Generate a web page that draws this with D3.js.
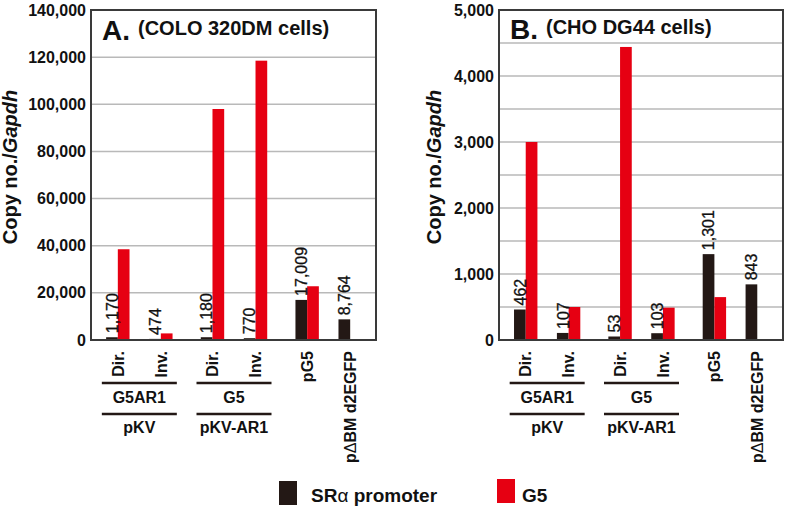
<!DOCTYPE html>
<html>
<head>
<meta charset="utf-8">
<script src="https://cdn.jsdelivr.net/npm/d3@7"></script>
<style>
  html, body { margin: 0; padding: 0; background: #fff; }
  svg { display: block; font-family: "Liberation Sans", Arial, Helvetica, sans-serif; }
</style>
</head>
<body>
<svg id="chart" width="787" height="508"></svg>
<script>
// ---------------- data ----------------
const itemLabels = ["Dir.", "Inv.", "Dir.", "Inv.", "pG5", "p\u0394BM d2EGFP"];
const itemPair   = ["pKV", "pKV", "pKV-AR1", "pKV-AR1", "ctrl", "ctrl"];
const pairs      = ["pKV", "pKV-AR1", "ctrl"];
const bracketInner = ["G5AR1", "G5"];      // first bracket row (under Dir./Inv.)
const bracketOuter = ["pKV", "pKV-AR1"];   // second bracket row
const seriesNames  = ["SR\u03b1 promoter", "G5"];

// Panel A: COLO 320DM cells
const srA  = [1170, 474, 1180, 770, 17009, 8764];
const g5A  = [38500, 2800, 98000, 118500, 22800, 0];
const ticksA = [0, 20000, 40000, 60000, 80000, 100000, 120000, 140000];
const gridA  = [20000, 40000, 60000, 80000, 100000, 120000];

// Panel B: CHO DG44 cells
const srB  = [462, 107, 53, 103, 1301, 843];
const g5B  = [3000, 500, 4440, 490, 650, 0];
const ticksB = [0, 1000, 2000, 3000, 4000, 5000];
const gridB  = [500, 1000, 1500, 2000, 2500, 3000, 3500, 4000, 4500];

// ---------------- style ----------------
const BLACK = "#231815", RED = "#e60012", GRID = "#b9b9b9", FRAME = "#3a3a3a";
const fmt = d3.format(",");
const svg = d3.select("#chart");

const panels = [
  { letter: "A.", sub: "(COLO 320DM cells)", sr: srA, g5: g5A, ticks: ticksA, grid: gridA,
    left: 91, right: 376, top: 10, bottom: 340, titleX: 17, letterBase: 40, subBase: 35 },
  { letter: "B.", sub: "(CHO DG44 cells)", sr: srB, g5: g5B, ticks: ticksB, grid: gridB,
    left: 499, right: 783, top: 10, bottom: 340, titleX: 441, letterBase: 39, subBase: 34 }
];

panels.forEach(p => {
  const g = svg.append("g");
  const y = d3.scaleLinear().domain([0, d3.max(p.ticks)]).range([p.bottom, p.top]);
  const xPair = d3.scaleBand().domain(pairs).range([p.left + 1, p.right]).padding(0);
  const xItem = d3.scaleBand().domain([0, 1]).range([0, xPair.bandwidth()])
                  .paddingInner(0).paddingOuter(0.1);
  const barW = 11.7;
  const cx = i => xPair(itemPair[i]) + xItem(i % 2) + xItem.bandwidth() / 2;
  const xs = d3.scaleBand().domain(seriesNames).range([-barW, barW]);

  // grid lines
  g.append("g").selectAll("line").data(p.grid).join("line")
    .attr("x1", p.left).attr("x2", p.right)
    .attr("y1", d => y(d)).attr("y2", d => y(d))
    .attr("stroke", GRID).attr("stroke-width", 1.5);

  // y axis
  const ax = g.append("g").attr("transform", `translate(${p.left - 5},0)`)
    .call(d3.axisLeft(y).tickValues(p.ticks).tickFormat(fmt).tickSize(0).tickPadding(0));
  ax.select(".domain").remove();
  ax.selectAll("text").attr("font-size", 16).attr("font-weight", "bold")
    .attr("fill", "#111").attr("font-family", "Liberation Sans, Arial, sans-serif");

  // bars
  const idx = d3.range(itemLabels.length);
  g.append("g").selectAll("rect.sr").data(idx).join("rect")
    .attr("x", i => cx(i) + xs(seriesNames[0])).attr("width", xs.bandwidth())
    .attr("y", i => y(p.sr[i])).attr("height", i => y(0) - y(p.sr[i]))
    .attr("fill", BLACK);
  g.append("g").selectAll("rect.g5").data(idx.filter(i => p.g5[i] > 0)).join("rect")
    .attr("x", i => cx(i) + xs(seriesNames[1])).attr("width", xs.bandwidth())
    .attr("y", i => y(p.g5[i])).attr("height", i => y(0) - y(p.g5[i]))
    .attr("fill", RED);

  // value labels on black bars
  g.append("g").selectAll("text").data(idx).join("text")
    .attr("transform", i => `translate(${cx(i) - barW / 2},${y(p.sr[i]) - 4}) rotate(-90)`)
    .attr("dy", "0.36em").attr("text-anchor", "start")
    .attr("font-size", 16).attr("fill", "#111")
    .attr("stroke", "#111").attr("stroke-width", 0.3)
    .text(i => fmt(p.sr[i]));

  // frame
  g.append("rect").attr("x", p.left).attr("y", p.top)
    .attr("width", p.right - p.left).attr("height", p.bottom - p.top)
    .attr("fill", "none").attr("stroke", FRAME).attr("stroke-width", 2);

  // panel title
  g.append("text").attr("x", p.left + 11).attr("y", p.letterBase)
    .attr("font-size", 28).attr("font-weight", "bold").attr("fill", "#111").text(p.letter);
  g.append("text").attr("x", p.left + 47).attr("y", p.subBase)
    .attr("font-size", 20).attr("font-weight", "bold").attr("fill", "#111").text(p.sub);

  // y title
  const yt = g.append("text")
    .attr("transform", `translate(${p.titleX},${(p.top + p.bottom) / 2 - 8}) rotate(-90)`)
    .attr("text-anchor", "middle").attr("font-size", 20).attr("font-weight", "bold").attr("fill", "#111");
  yt.append("tspan").text("Copy no./");
  yt.append("tspan").attr("font-style", "italic").text("Gapdh");

  // x labels
  const xl = g.append("g").selectAll("text").data(idx).join("text")
    .attr("transform", i => `translate(${cx(i)},${p.bottom + 11}) rotate(-90)`)
    .attr("dy", "0.36em").attr("text-anchor", "end")
    .attr("font-size", 16).attr("font-weight", "bold").attr("fill", "#111");
  xl.each(function (i) {
    const t = d3.select(this);
    const parts = itemLabels[i].split("\u0394");
    if (parts.length === 1) { t.text(itemLabels[i]); return; }
    t.append("tspan").text(parts[0]);
    t.append("tspan").attr("font-weight", "normal").text("\u0394");
    t.append("tspan").text(parts[1]);
  });

  // brackets
  const bp = pairs.slice(0, 2);
  const bg = g.append("g");
  bp.forEach((pr, k) => {
    const c = xPair(pr) + xPair.bandwidth() / 2;
    [383, 414].forEach(yy => {
      bg.append("line").attr("x1", c - 37.5).attr("x2", c + 37.5)
        .attr("y1", yy).attr("y2", yy).attr("stroke", BLACK).attr("stroke-width", 2.6);
    });
    bg.append("text").attr("x", c).attr("y", 403).attr("text-anchor", "middle")
      .attr("font-size", 16).attr("font-weight", "bold").attr("fill", "#111").text(bracketInner[k]);
    bg.append("text").attr("x", c).attr("y", 433).attr("text-anchor", "middle")
      .attr("font-size", 16).attr("font-weight", "bold").attr("fill", "#111").text(bracketOuter[k]);
  });
});

// legend
const leg = svg.append("g");
const legItems = [
  { name: seriesNames[0], color: BLACK, rx: 279, ry: 481, tx: 311 },
  { name: seriesNames[1], color: RED, rx: 497, ry: 479, tx: 522 }
];
legItems.forEach((d, k) => {
  leg.append("rect").attr("x", d.rx).attr("y", d.ry).attr("width", 18).attr("height", 24).attr("fill", d.color);
  const t = leg.append("text").attr("x", d.tx).attr("y", 502)
    .attr("font-size", 19).attr("font-weight", "bold").attr("fill", "#111");
  if (k === 0) {
    t.append("tspan").text("SR");
    t.append("tspan").attr("font-weight", "normal").text("\u03b1");
    t.append("tspan").text(" promoter");
  } else {
    t.text(d.name);
  }
});
</script>
</body>
</html>
